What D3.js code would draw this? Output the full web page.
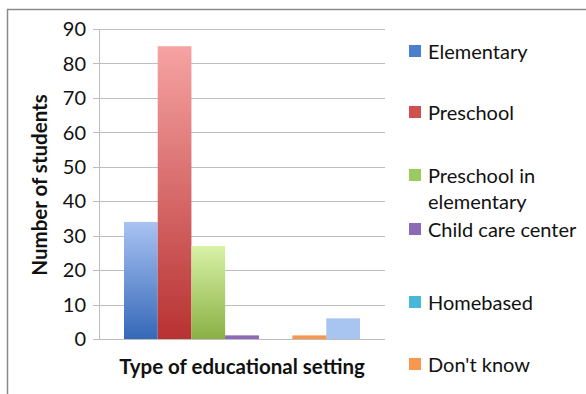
<!DOCTYPE html>
<html><head><meta charset="utf-8">
<script src="https://cdn.jsdelivr.net/npm/d3@7"></script>
<style>body{margin:0;background:#fff;}svg{display:block;font-family:Lato,"Open Sans",sans-serif;}</style>
</head><body><svg id="c" width="586" height="394"></svg>
<script>
const series = ["Elementary","Preschool","Preschool in elementary","Child care center","Homebased","Don't know",""];
const values = [34,85,27,1,0,1,6];
const legendLabels = [["Elementary"],["Preschool"],["Preschool in","elementary"],["Child care center"],["Homebased"],["Don't know"]];
const yTicks = [0,10,20,30,40,50,60,70,80,90];
const colorsTop = ["#a9c3f2","#f6a3a3","#d8f2a6","#a690cc","#8fd4e6","#fbbb8a","#a8c4f0"];
const colorsBot = ["#3568b8","#b83232","#8bb044","#7050a0","#3aa0c0","#f28a40","#a8c4f0"];
const legendColors = ["#4a7fd0","#d05050","#9bcb60","#8b6ab8","#48b8d8","#f8974e"];

const svg = d3.select("#c");
const L = 99, R = 385, T = 29, B = 339;
const y = d3.scaleLinear().domain([0,90]).range([B,T]);
const x = d3.scaleBand().domain(d3.range(values.length)).range([L+25,R-25]).padding(0);

// frame
svg.append("path").attr("d","M7.5,394 V9.5 H586").attr("fill","none").attr("stroke","#8a8a8a").attr("stroke-width",1.5);

const defs = svg.append("defs");
values.forEach((v,i)=>{
  const g = defs.append("linearGradient").attr("id","g"+i).attr("x1",0).attr("y1",0).attr("x2",0).attr("y2",1);
  g.append("stop").attr("offset",0).attr("stop-color",colorsTop[i]);
  g.append("stop").attr("offset",1).attr("stop-color",colorsBot[i]);
});

// grid
svg.append("g").selectAll("line").data(yTicks).join("line")
  .attr("x1",L-6).attr("x2",R).attr("y1",d=>Math.round(y(d))+0.5).attr("y2",d=>Math.round(y(d))+0.5)
  .attr("stroke","#bdbdbd").attr("stroke-width",1);
svg.append("line").attr("x1",L+0.5).attr("x2",L+0.5).attr("y1",T).attr("y2",B).attr("stroke","#bdbdbd");

// tick labels
svg.append("g").selectAll("text").data(yTicks).join("text")
  .attr("x",86).attr("y",d=>y(d)).attr("dy","0.36em").attr("text-anchor","end")
  .attr("font-size",20).attr("fill","#111").text(d=>d);

// bars
svg.append("g").selectAll("rect").data(values).join("rect")
  .attr("x",(d,i)=>x(i)).attr("width",x.bandwidth())
  .attr("y",d=>y(d)).attr("height",d=>Math.max(0,B-y(d)))
  .attr("fill",(d,i)=>"url(#g"+i+")");
// tiny bars need solid color
svg.append("g").selectAll("rect").data(values.map((v,i)=>({v,i})).filter(d=>d.v>0&&d.v<3)).join("rect")
  .attr("x",d=>x(d.i)).attr("width",x.bandwidth()).attr("y",d=>y(d.v)).attr("height",d=>B-y(d.v))
  .attr("fill",d=>legendColors[d.i]);

// axis titles
svg.append("text").attr("transform","translate(47,185) rotate(-90)").attr("text-anchor","middle")
  .attr("font-size",20.5).attr("font-weight","bold").attr("fill","#111").text("Number of students");
svg.append("text").attr("x",242).attr("y",374).attr("text-anchor","middle")
  .attr("font-size",20.5).attr("font-weight","bold").attr("fill","#111").text("Type of educational setting");

// legend
const legendY = [52,113,176,230,303,365];
const lg = svg.append("g").selectAll("g").data(legendLabels).join("g")
  .attr("transform",(d,i)=>`translate(409,${legendY[i]})`);
lg.append("rect").attr("x",0).attr("y",-7).attr("width",12).attr("height",12).attr("fill",(d,i)=>legendColors[i]);
lg.append("text").attr("x",19).attr("font-size",20).attr("fill","#111")
  .selectAll("tspan").data(d=>d).join("tspan").attr("x",19).attr("dy",(d,j)=>j===0?"0.36em":"26").text(d=>d);
</script></body></html>
